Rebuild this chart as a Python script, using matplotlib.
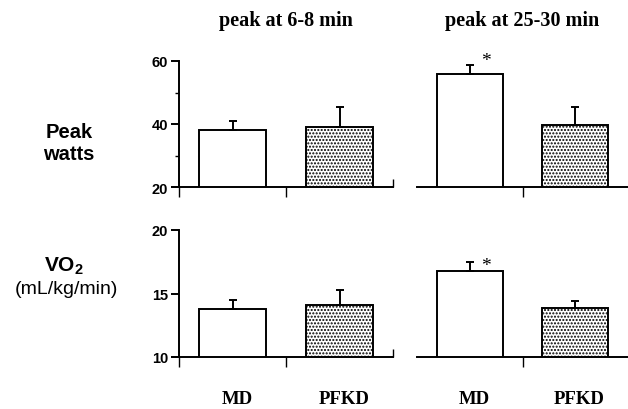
import matplotlib
matplotlib.use("Agg")
import matplotlib.pyplot as plt
from matplotlib.transforms import blended_transform_factory

# Data
groups = ["MD", "PFKD"]
panels = ["peak at 6-8 min", "peak at 25-30 min"]
watts_mean = {"peak at 6-8 min": [38.1, 39.0], "peak at 25-30 min": [56.0, 39.8]}
watts_err = {"peak at 6-8 min": [2.9, 6.3], "peak at 25-30 min": [2.6, 5.6]}
vo2_mean = {"peak at 6-8 min": [13.75, 14.1], "peak at 25-30 min": [16.75, 13.85]}
vo2_err = {"peak at 6-8 min": [0.72, 1.2], "peak at 25-30 min": [0.72, 0.55]}
stars = {"peak at 6-8 min": [False, False], "peak at 25-30 min": [True, False]}
star_level = {"watts": 60.0, "vo2": 17.17}

plt.rcParams['mathtext.fontset'] = 'custom'
plt.rcParams['mathtext.bf'] = 'Liberation Sans:bold'
plt.rcParams['mathtext.rm'] = 'Liberation Sans'
plt.rcParams['hatch.linewidth'] = 1.0

W, H = 628, 410
fig = plt.figure(figsize=(W / 100, H / 100), dpi=100)

def fax(x0, x1, ytop, ybot):
    return fig.add_axes([x0 / W, 1 - ybot / H, (x1 - x0) / W, (ybot - ytop) / H])

serif = "Liberation Serif"
sans = "Liberation Sans"
lw = 1.4
ppu = 106.5  # px per category unit

rows = [
    dict(key="watts", means=watts_mean, errs=watts_err, ylim=(20, 60), major=[20, 40, 60], minor=[30, 50], ytop=62, ybot=188),
    dict(key="vo2", means=vo2_mean, errs=vo2_err, ylim=(10, 20), major=[10, 15, 20], minor=[], ytop=231, ybot=358),
]

for r, row in enumerate(rows):
    for c, p in enumerate(panels):
        if c == 0:
            ext = 0.07
            ax = fax(179 - ext * ppu, 393, row["ytop"], row["ybot"])
            ax.set_xlim(-0.5 - ext, 1.5)
        else:
            ax = fax(417, 628, row["ytop"], row["ybot"])
            ax.set_xlim(-0.5, 1.5)
        ax.set_ylim(*row["ylim"])
        x = [0, 1]
        means = row["means"][p]
        errs = row["errs"][p]
        ax.bar(x[0], means[0], width=0.63, color="white", edgecolor="black", linewidth=lw, zorder=2)
        ax.bar(x[1], means[1], width=0.63, color="white", edgecolor="black", linewidth=lw,
               hatch=".....", zorder=2)
        for xi, m, e in zip(x, means, errs):
            ax.errorbar(xi, m, yerr=[[0], [e]], fmt="none", ecolor="black", elinewidth=lw,
                        capsize=3, capthick=lw, zorder=3)
        for xi, s in zip(x, stars[p]):
            if s:
                ax.text(xi + 0.15, star_level[row["key"]], "*", ha="center", va="center",
                        fontsize=14, family=serif, clip_on=False)
        for side in ["top", "right"]:
            ax.spines[side].set_visible(False)
        ax.spines["bottom"].set_linewidth(lw)
        if c == 0:
            ax.spines["left"].set_position(("data", -0.5))
            ax.spines["left"].set_linewidth(lw)
            ax.set_yticks(row["major"])
            ax.set_yticks(row["minor"], minor=True)
            ax.tick_params(axis="y", which="major", length=6, width=lw, labelsize=10.5, pad=2)
            ax.tick_params(axis="y", which="minor", length=3, width=1.0)
            for lab in ax.get_yticklabels():
                lab.set_family(sans)
                lab.set_fontweight("bold")
            ax.set_xticks([-0.5, 0.5])
            ax.set_xticks([1.5], minor=True)
            ax.tick_params(axis="x", which="minor", direction="in", length=6, width=1.0)
        else:
            ax.spines["left"].set_visible(False)
            ax.set_yticks([])
            ax.set_xticks([0.5])
        ax.tick_params(axis="x", which="major", direction="out", length=7, width=1.0, labelbottom=False)
        ax.set_facecolor("none")
        tr = blended_transform_factory(ax.transData, fig.transFigure)
        if r == 0:
            ax.text(0.5, 1 - 21 / H, p, transform=tr,
                    ha="center", va="center", fontsize=14.5, fontweight="bold", family=serif)
        if r == 1:
            for xi, g in zip(x, groups):
                ax.text(xi + 0.04, 1 - 400 / H, g, transform=tr, ha="center", va="center",
                        fontsize=13.5, fontweight="bold", family=serif)

fig.text(69 / W, 1 - 144 / H, "Peak\nwatts", ha="center", va="center", fontsize=14.5,
         fontweight="bold", family=sans, linespacing=1.2)
fig.text(64 / W, 1 - 266 / H, r"$\mathbf{VO}_{\mathbf{2}}$", ha="center", va="center", fontsize=15)
fig.text(66 / W, 1 - 290 / H, "(mL/kg/min)", ha="center", va="center", fontsize=14, family=sans)

fig.savefig("out.png", dpi=100)
